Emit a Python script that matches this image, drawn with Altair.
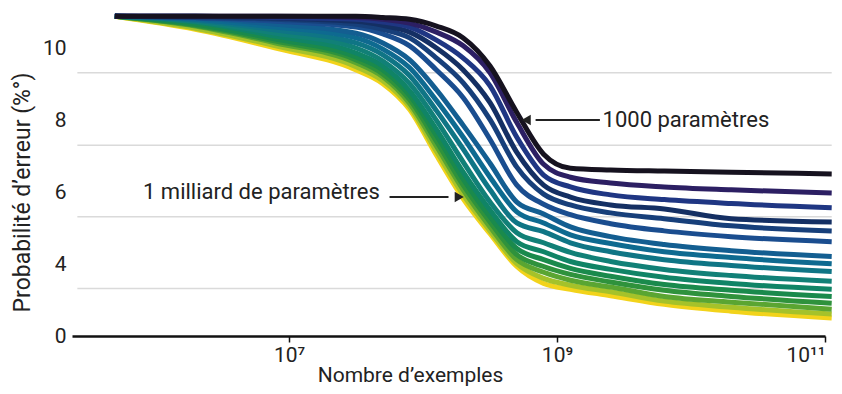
import altair as alt
import pandas as pd

# x positions: log10(number of examples)
exps = [5.70, 6.3, 6.9, 7.5, 7.7, 7.9, 8.1, 8.3, 8.5, 8.7, 8.9, 9.1, 9.4, 9.8, 10.3, 11.05]

# error probability curves, from 1000 parameters (k01) to 1 billion (k16)
k01 = [10.88, 10.88, 10.88, 10.88, 10.85, 10.80, 10.61, 10.28, 9.50, 8.21, 7.05, 6.66, 6.61, 6.58, 6.55, 6.50]
k02 = [10.88, 10.88, 10.88, 10.85, 10.80, 10.69, 10.44, 10.06, 9.31, 7.93, 6.77, 6.41, 6.25, 6.14, 6.06, 5.97]
k03 = [10.88, 10.88, 10.85, 10.80, 10.72, 10.58, 10.22, 9.72, 8.95, 7.52, 6.47, 6.14, 5.92, 5.79, 5.68, 5.56]
k04 = [10.88, 10.88, 10.83, 10.74, 10.63, 10.44, 10.00, 9.39, 8.48, 7.10, 6.19, 5.86, 5.64, 5.53, 5.26, 5.17]
k05 = [10.88, 10.85, 10.80, 10.66, 10.52, 10.28, 9.72, 9.03, 8.01, 6.69, 5.94, 5.64, 5.42, 5.26, 5.06, 4.92]
k06 = [10.88, 10.85, 10.74, 10.58, 10.39, 10.06, 9.39, 8.62, 7.46, 6.19, 5.66, 5.37, 5.12, 4.92, 4.76, 4.62]
k07 = [10.88, 10.83, 10.66, 10.41, 10.14, 9.67, 8.84, 7.85, 6.80, 5.72, 5.39, 5.03, 4.76, 4.54, 4.37, 4.21]
k08 = [10.88, 10.80, 10.58, 10.28, 9.97, 9.45, 8.54, 7.52, 6.41, 5.45, 5.14, 4.81, 4.57, 4.34, 4.18, 4.01]
k09 = [10.88, 10.77, 10.50, 10.14, 9.81, 9.23, 8.26, 7.19, 6.06, 5.14, 4.90, 4.59, 4.34, 4.12, 3.96, 3.79]
k10 = [10.88, 10.74, 10.41, 10.00, 9.64, 9.01, 7.99, 6.83, 5.72, 4.87, 4.59, 4.32, 4.07, 3.85, 3.68, 3.52]
k11 = [10.88, 10.72, 10.33, 9.86, 9.50, 8.81, 7.74, 6.55, 5.50, 4.62, 4.34, 4.07, 3.85, 3.63, 3.46, 3.30]
k12 = [10.88, 10.66, 10.25, 9.75, 9.39, 8.68, 7.57, 6.36, 5.31, 4.43, 4.12, 3.88, 3.66, 3.43, 3.27, 3.10]
k13 = [10.88, 10.63, 10.19, 9.67, 9.28, 8.57, 7.41, 6.19, 5.17, 4.26, 3.93, 3.71, 3.50, 3.27, 3.10, 2.91]
k14 = [10.88, 10.61, 10.14, 9.59, 9.20, 8.46, 7.27, 6.06, 5.03, 4.12, 3.77, 3.55, 3.36, 3.10, 2.94, 2.74]
k15 = [10.88, 10.55, 10.06, 9.48, 9.09, 8.37, 7.13, 5.92, 4.92, 4.01, 3.60, 3.41, 3.23, 2.97, 2.80, 2.61]
k16 = [10.88, 10.52, 10.00, 9.39, 9.01, 8.29, 7.02, 5.81, 4.84, 3.93, 3.46, 3.30, 3.12, 2.88, 2.69, 2.50]

series_names = ["k01", "k02", "k03", "k04", "k05", "k06", "k07", "k08",
                "k09", "k10", "k11", "k12", "k13", "k14", "k15", "k16"]
series_values = [k01, k02, k03, k04, k05, k06, k07, k08,
                 k09, k10, k11, k12, k13, k14, k15, k16]
series_colors = ["#16121f", "#2c1f63", "#1f3683", "#142f63", "#173f7a", "#1a4d8f",
                 "#135e91", "#0e6a90", "#0f7585", "#118077", "#108466", "#1a8a4c",
                 "#2f923c", "#5aa532", "#a5c22a", "#f2d31b"]

# light horizontal guide lines
grid_y = [9.31, 7.30, 5.31, 3.32]
grid_x0 = 5.42
grid_x1 = 11.05

# y tick values ("0" sits at the bottom baseline)
y_ticks = [2, 4, 6, 8, 10]
x_ticks = [7, 9, 11]

# annotations
ann_text = ["1000 paramètres", "1 milliard de paramètres"]
ann_x = [9.34, 5.91]
ann_y = [7.99, 6.00]
arrow_x0 = [9.32, 7.75]
arrow_x1 = [8.84, 8.19]
arrow_y = [8.0, 5.86]
head_x = [8.77, 8.27]
head_shape = ["triangle-left", "triangle-right"]

FONT = "Roboto"
TXT = "#222222"

rows = []
for name, vals in reversed(list(zip(series_names, series_values))):
    for e, v in zip(exps, vals):
        rows.append({"exp": e, "err": v, "serie": name})
df = pd.DataFrame(rows)

xscale = alt.Scale(domain=[5.38, 11], nice=False, zero=False)
yscale = alt.Scale(domain=[2, 11], nice=False, zero=False)

x_axis = alt.Axis(
    values=x_ticks,
    labelExpr="datum.value == 7 ? '10⁷' : datum.value == 9 ? '10⁹' : '10¹¹'",
    grid=False,
    domainColor="#111111",
    domainWidth=2.5,
    tickColor="#111111",
    tickWidth=1.5,
    tickSize=6,
    labelFont=FONT,
    labelFontSize=21,
    labelColor=TXT,
    labelPadding=2,
    title="Nombre d’exemples",
    titleFont=FONT,
    titleFontSize=21,
    titleFontWeight="normal",
    titleColor=TXT,
    titleX=338,
    titleY=45,
    titleBaseline="alphabetic",
)
y_axis = alt.Axis(
    values=y_ticks,
    labelExpr="datum.value == 2 ? '0' : datum.label",
    grid=False,
    domain=False,
    ticks=False,
    labelFont=FONT,
    labelFontSize=21,
    labelColor=TXT,
    labelPadding=6,
    title="Probabilité d’erreur (%°)",
    titleFont=FONT,
    titleFontSize=23,
    titleFontWeight="normal",
    titleColor=TXT,
    titleX=-50,
    titleY=180,
    titleBaseline="middle",
)


def X(field):
    return alt.X(field, scale=xscale, axis=x_axis)


def Y(field):
    return alt.Y(field, scale=yscale, axis=y_axis)


grid = alt.Chart(pd.DataFrame({"y": grid_y, "x0": grid_x0, "x1": grid_x1})).mark_rule(
    color="#dadada", strokeWidth=1.5
).encode(x=X("x0:Q"), x2="x1:Q", y=Y("y:Q"))

lines = alt.Chart(df).mark_line(strokeWidth=5, interpolate="monotone", clip=False).encode(
    x=X("exp:Q"),
    y=Y("err:Q"),
    color=alt.Color("serie:N", scale=alt.Scale(domain=series_names, range=series_colors), legend=None),
    detail="serie:N",
)

arrows = alt.Chart(pd.DataFrame({"x0": arrow_x0, "x1": arrow_x1, "y": arrow_y})).mark_rule(
    color="#222222", strokeWidth=2
).encode(x=X("x0:Q"), x2="x1:Q", y=Y("y:Q"))

heads = alt.Chart(pd.DataFrame({"x": head_x, "y": arrow_y, "shape": head_shape})).mark_point(
    filled=True, color="#222222", size=110, opacity=1
).encode(
    x=X("x:Q"),
    y=Y("y:Q"),
    shape=alt.Shape("shape:N", scale=None, legend=None),
)

labels = alt.Chart(pd.DataFrame({"x": ann_x, "y": ann_y, "t": ann_text})).mark_text(
    align="left", baseline="middle", font=FONT, fontSize=22, color=TXT
).encode(x=X("x:Q"), y=Y("y:Q"), text="t:N")

chart = alt.layer(grid, lines, arrows, heads, labels).properties(
    width=753,
    height=324,
    padding={"left": 64, "top": 4, "right": 9, "bottom": 50},
    autosize="none",
    background="white",
).configure_view(stroke=None)

chart.save("out.html", embed_options={"renderer": "svg", "actions": False})
